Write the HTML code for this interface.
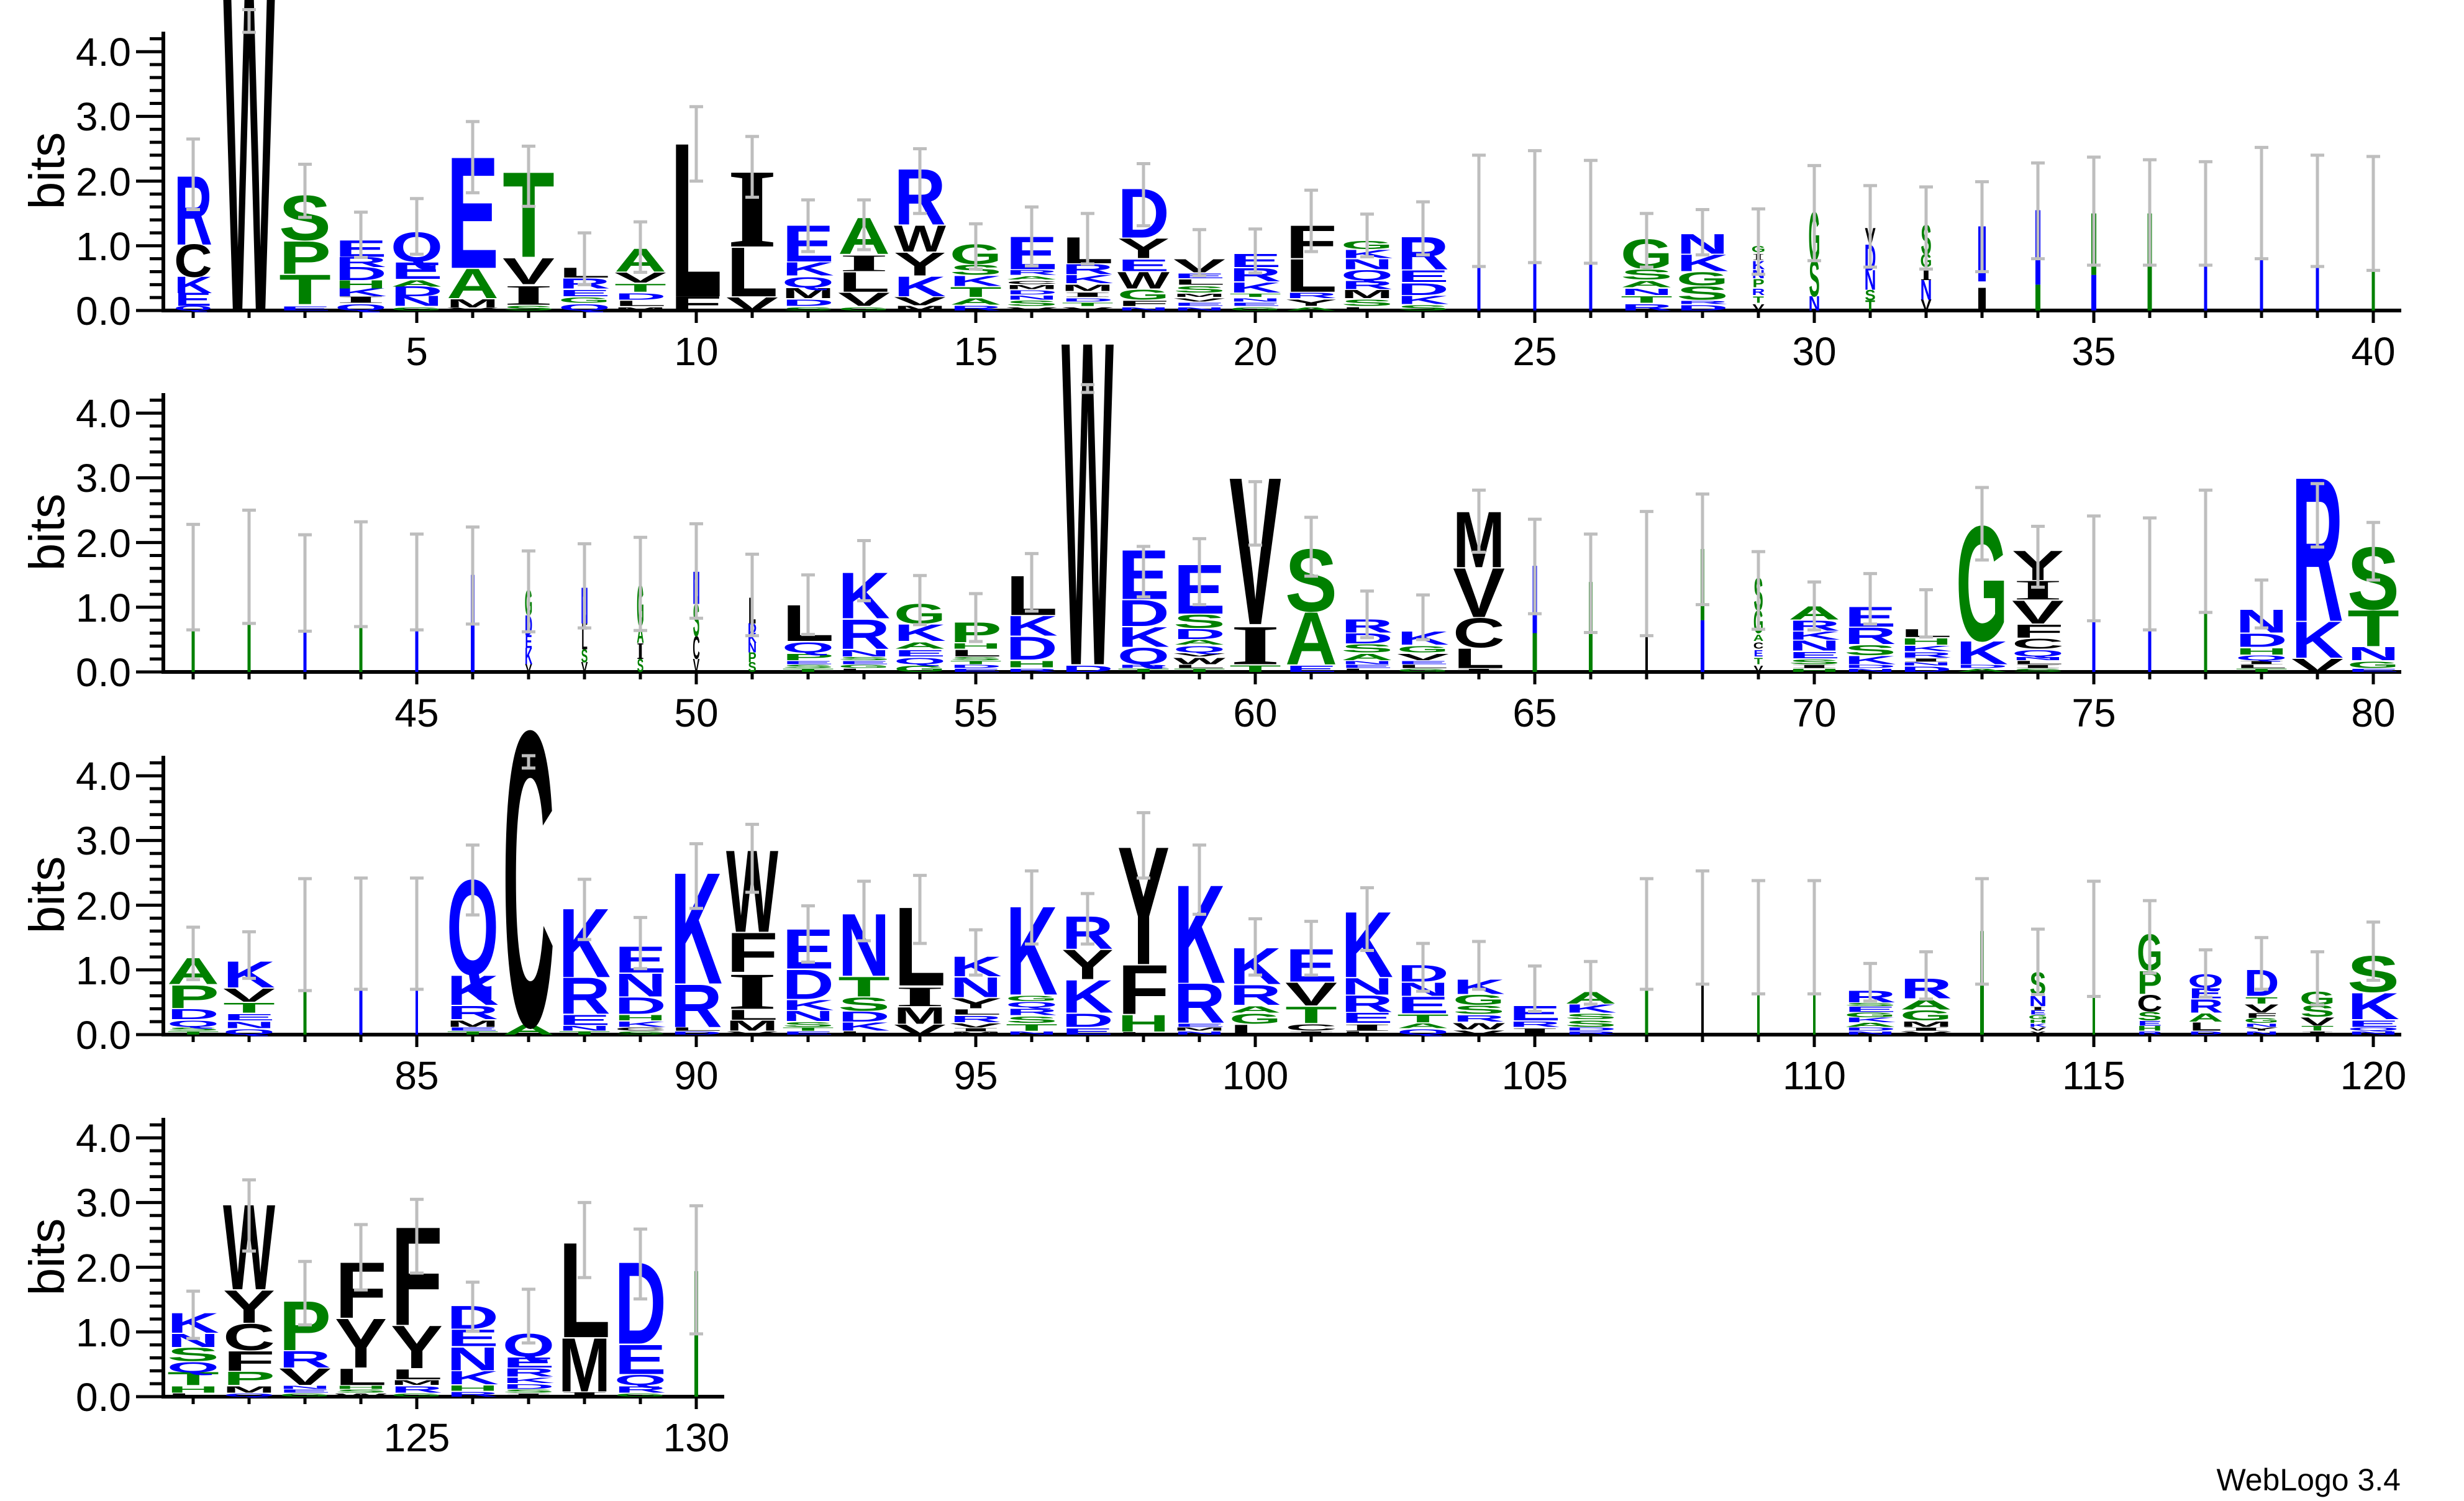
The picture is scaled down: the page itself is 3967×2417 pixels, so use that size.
<!DOCTYPE html>
<html><head><meta charset="utf-8">
<style>
html,body{margin:0;padding:0;background:#fff}
svg{display:block}
.L text{font-family:"Liberation Sans",sans-serif;font-weight:bold;font-size:100px;text-anchor:middle}
.L text.i{font-family:"Liberation Serif",serif}
.b{fill:#0000ff}.g{fill:#008000}.k{fill:#000}
.e{stroke:#bebebe;stroke-width:5;fill:none;vector-effect:non-scaling-stroke}
.ax{stroke:#000;fill:none}
.tl{font-family:"Liberation Sans",sans-serif;font-size:64px;fill:#000}
.bl{font-family:"Liberation Sans",sans-serif;font-size:80px;fill:#000;text-anchor:middle}
</style></head><body>
<svg width="3967" height="2417" viewBox="0 0 3967 2417" xmlns="http://www.w3.org/2000/svg">
<defs>
<g id="yax">
<path class="ax" stroke-width="6" d="M263,3V-449"/>
<path class="ax" stroke-width="5" d="M219,0H263M219,-104.2H263M219,-208.4H263M219,-312.6H263M219,-416.8H263M241,-20.84H263M241,-41.68H263M241,-62.52H263M241,-83.36H263M241,-125.04H263M241,-145.88H263M241,-166.72H263M241,-187.56H263M241,-229.24H263M241,-250.08H263M241,-270.92H263M241,-291.76H263M241,-333.44H263M241,-354.28H263M241,-375.12H263M241,-395.96H263M241,-437.64H263"/>
</g>
<g id="xax">
<path class="ax" stroke-width="6" d="M263,0H3866"/>
<path class="ax" stroke-width="5" d="M311,0v12M401,0v12M491,0v12M581,0v12M671,0v20M761,0v12M851,0v12M941,0v12M1031,0v12M1121,0v20M1211,0v12M1301,0v12M1391,0v12M1481,0v12M1571,0v20M1661,0v12M1751,0v12M1841,0v12M1931,0v12M2021,0v20M2111,0v12M2201,0v12M2291,0v12M2381,0v12M2471,0v20M2561,0v12M2651,0v12M2741,0v12M2831,0v12M2921,0v20M3011,0v12M3101,0v12M3191,0v12M3281,0v12M3371,0v20M3461,0v12M3551,0v12M3641,0v12M3731,0v12M3821,0v20"/>
</g>
</defs>

<use href="#yax" transform="translate(0,500)"/>
<use href="#xax" transform="translate(0,500)"/>
<text class="bl" transform="translate(103,275) rotate(-90)">bits</text>
<g class="tl" text-anchor="end"><text x="211" y="523">0.0</text><text x="211" y="419">1.0</text><text x="211" y="315">2.0</text><text x="211" y="210">3.0</text><text x="211" y="106">4.0</text></g>
<g class="tl" text-anchor="middle"><text x="671" y="588">5</text><text x="1121" y="588">10</text><text x="1571" y="588">15</text><text x="2021" y="588">20</text><text x="2471" y="588">25</text><text x="2921" y="588">30</text><text x="3371" y="588">35</text><text x="3821" y="588">40</text></g>

<use href="#yax" transform="translate(0,1082)"/>
<use href="#xax" transform="translate(0,1082)"/>
<text class="bl" transform="translate(103,857) rotate(-90)">bits</text>
<g class="tl" text-anchor="end"><text x="211" y="1105">0.0</text><text x="211" y="1001">1.0</text><text x="211" y="897">2.0</text><text x="211" y="792">3.0</text><text x="211" y="688">4.0</text></g>
<g class="tl" text-anchor="middle"><text x="671" y="1170">45</text><text x="1121" y="1170">50</text><text x="1571" y="1170">55</text><text x="2021" y="1170">60</text><text x="2471" y="1170">65</text><text x="2921" y="1170">70</text><text x="3371" y="1170">75</text><text x="3821" y="1170">80</text></g>

<use href="#yax" transform="translate(0,1666)"/>
<use href="#xax" transform="translate(0,1666)"/>
<text class="bl" transform="translate(103,1441) rotate(-90)">bits</text>
<g class="tl" text-anchor="end"><text x="211" y="1689">0.0</text><text x="211" y="1585">1.0</text><text x="211" y="1481">2.0</text><text x="211" y="1376">3.0</text><text x="211" y="1272">4.0</text></g>
<g class="tl" text-anchor="middle"><text x="671" y="1754">85</text><text x="1121" y="1754">90</text><text x="1571" y="1754">95</text><text x="2021" y="1754">100</text><text x="2471" y="1754">105</text><text x="2921" y="1754">110</text><text x="3371" y="1754">115</text><text x="3821" y="1754">120</text></g>

<use href="#yax" transform="translate(0,2249)"/>
<path class="ax" stroke-width="6" d="M263,2249H1166"/>
<path class="ax" stroke-width="5" d="M311,2249v12M401,2249v12M491,2249v12M581,2249v12M671,2249v20M761,2249v12M851,2249v12M941,2249v12M1031,2249v12M1121,2249v20"/>
<text class="bl" transform="translate(103,2024) rotate(-90)">bits</text>
<g class="tl" text-anchor="end"><text x="211" y="2272">0.0</text><text x="211" y="2168">1.0</text><text x="211" y="2064">2.0</text><text x="211" y="1959">3.0</text><text x="211" y="1855">4.0</text></g>
<g class="tl" text-anchor="middle"><text x="671" y="2337">125</text><text x="1121" y="2337">130</text></g>

<text x="3865" y="2400" text-anchor="end" style="font-family:'Liberation Sans',sans-serif;font-size:50px">WebLogo 3.4</text>

<g class="L">
<!-- ROW 1 -->
<g transform="translate(311,500) scale(1,104.2)"><text class=b transform=scale(.8,.00102)>Q</text><g transform=translate(0,-.07)><text class=b transform=scale(.9,.0029)>E</text><g transform=translate(0,-.2)><text class=b transform=scale(.85,.00363)>K</text><g transform=translate(0,-.25)><text class=k transform=scale(.85,.00725)>C</text><g transform=translate(0,-.5)><text class=b transform=scale(.85,.01523)>R</text></g></g></g></g><path class=e d="M0,-1.56V-2.65M-11,-1.56H11M-11,-2.65H11"/></g>

<g transform="translate(401,500) scale(1,104.2)"><text class=k transform=scale(.89,.07178)>W</text><path class=e d="M0,-4.3V-4.65M-11,-4.3H11M-11,-4.65H11"/></g>

<g transform="translate(491,500) scale(1,104.2)"><text class=b transform=scale(1.26,.00087)>E</text><g transform=translate(0,-.1)><text class=g transform=scale(1.37,.00653)>T</text><g transform=translate(0,-.47)><text class=g transform=scale(1.26,.00725)>P</text><g transform=translate(0,-.52)><text class=g transform=scale(1.26,.00986)>S</text></g></g></g><path class=e d="M0,-1.44V-2.26M-11,-1.44H11M-11,-2.26H11"/></g>

<g transform="translate(581,500) scale(1,104.2)"><text class=b transform=scale(1.08,.00145)>Q</text><g transform=translate(0,-.12)><text class="k i" transform=scale(2.1,.00145)>I</text><g transform=translate(0,-.1)><text class=b transform=scale(1.16,.00174)>K</text><g transform=translate(0,-.12)><text class=g transform=scale(1.16,.00174)>H</text><g transform=translate(0,-.13)><text class=b transform=scale(1.16,.0029)>D</text><g transform=translate(0,-.2)><text class=b transform=scale(1.16,.00218)>R</text><g transform=translate(0,-.16)><text class=b transform=scale(1.26,.00363)>E</text></g></g></g></g></g></g><path class=e d="M0,-.82V-1.52M-11,-.82H11M-11,-1.52H11"/></g>

<g transform="translate(671,500) scale(1,104.2)"><text class=g transform=scale(1.08,.00073)>G</text><g transform=translate(0,-.07)><text class=b transform=scale(1.16,.00218)>N</text><g transform=translate(0,-.15)><text class=b transform=scale(1.16,.00218)>D</text><g transform=translate(0,-.15)><text class=g transform=scale(1.16,.00145)>A</text><g transform=translate(0,-.12)><text class=b transform=scale(1.26,.00363)>E</text><g transform=translate(0,-.27)><text class=b transform=scale(1.08,.00653)>Q</text></g></g></g></g></g><path class=e d="M0,-.87V-1.73M-11,-.87H11M-11,-1.73H11"/></g>

<g transform="translate(761,500) scale(1,104.2)"><text class=k transform=scale(1.26,.00058)>V</text><g transform=translate(0,-.05)><text class=k transform=scale(1.01,.00174)>M</text><g transform=translate(0,-.14)><text class=g transform=scale(1.16,.00653)>A</text><g transform=translate(0,-.47)><text class=b transform=scale(1.26,.02465)>E</text></g></g></g><path class=e d="M0,-1.82V-2.92M-11,-1.82H11M-11,-2.92H11"/></g>

<g transform="translate(851,500) scale(1,104.2)"><text class=g transform=scale(1.26,.00102)>S</text><g transform=translate(0,-.09)><text class="k i" transform=scale(2.1,.00435)>I</text><g transform=translate(0,-.32)><text class=k transform=scale(1.26,.0058)>V</text><g transform=translate(0,-.42)><text class=g transform=scale(1.37,.01885)>T</text></g></g></g><path class=e d="M0,-1.61V-2.54M-11,-1.61H11M-11,-2.54H11"/></g>

<g transform="translate(941,500) scale(1,104.2)"><text class=b transform=scale(1.08,.00145)>Q</text><g transform=translate(0,-.12)><text class=g transform=scale(1.08,.00116)>G</text><g transform=translate(0,-.1)><text class=b transform=scale(1.26,.00145)>E</text><g transform=translate(0,-.12)><text class=b transform=scale(1.16,.00218)>R</text><g transform=translate(0,-.17)><text class=k transform=scale(1.37,.00218)>L</text></g></g></g></g><path class=e d="M0,-.4V-1.2M-11,-.4H11M-11,-1.2H11"/></g>

<g transform="translate(1031,500) scale(1,104.2)"><text class=k transform=scale(1.01,.00073)>M</text><g transform=translate(0,-.07)><text class=k transform=scale(1.37,.00116)>L</text><g transform=translate(0,-.1)><text class=b transform=scale(1.16,.00145)>D</text><g transform=translate(0,-.12)><text class=g transform=scale(1.37,.00174)>T</text><g transform=translate(0,-.14)><text class=k transform=scale(1.26,.00218)>V</text><g transform=translate(0,-.17)><text class=g transform=scale(1.16,.00508)>A</text></g></g></g></g></g><path class=e d="M0,-.59V-1.37M-11,-.59H11M-11,-1.37H11"/></g>

<g transform="translate(1121,500) scale(1,104.2)"><text class=k transform=scale(1.37,.00319)>F</text><g transform=translate(0,-.22)><text class=k transform=scale(1.37,.03408)>L</text></g><path class=e d="M0,-2V-3.15M-11,-2H11M-11,-3.15H11"/></g>

<g transform="translate(1211,500) scale(1,104.2)"><text class=k transform=scale(1.26,.0029)>V</text><g transform=translate(0,-.22)><text class=k transform=scale(1.37,.01088)>L</text><g transform=translate(0,-.77)><text class="k i" transform=scale(2.1,.0174)>I</text></g></g><path class=e d="M0,-1.75V-2.69M-11,-1.75H11M-11,-2.69H11"/></g>

<g transform="translate(1301,500) scale(1,104.2)"><text class=g transform=scale(1.26,.00073)>S</text><g transform=translate(0,-.07)><text class=b transform=scale(1.16,.00145)>D</text><g transform=translate(0,-.12)><text class=k transform=scale(1.01,.00218)>M</text><g transform=translate(0,-.17)><text class=b transform=scale(1.08,.00218)>Q</text><g transform=translate(0,-.18)><text class=b transform=scale(1.16,.0029)>K</text><g transform=translate(0,-.22)><text class=b transform=scale(1.26,.00798)>E</text></g></g></g></g></g><path class=e d="M0,-.91V-1.71M-11,-.91H11M-11,-1.71H11"/></g>

<g transform="translate(1391,500) scale(1,104.2)"><text class=g transform=scale(1.08,.00073)>G</text><g transform=translate(0,-.07)><text class=k transform=scale(1.26,.0029)>V</text><g transform=translate(0,-.22)><text class=k transform=scale(1.37,.00435)>L</text><g transform=translate(0,-.32)><text class="k i" transform=scale(2.1,.00363)>I</text><g transform=translate(0,-.27)><text class=g transform=scale(1.16,.00798)>A</text></g></g></g></g><path class=e d="M0,-.94V-1.71M-11,-.94H11M-11,-1.71H11"/></g>

<g transform="translate(1481,500) scale(1,104.2)"><text class=k transform=scale(1.01,.00102)>M</text><g transform=translate(0,-.08)><text class=k transform=scale(1.26,.00174)>V</text><g transform=translate(0,-.14)><text class=b transform=scale(1.16,.00435)>K</text><g transform=translate(0,-.32)><text class=k transform=scale(1.26,.00508)>Y</text><g transform=translate(0,-.37)><text class=k transform=scale(.89,.0058)>W</text><g transform=translate(0,-.42)><text class=b transform=scale(1.16,.01233)>R</text></g></g></g></g></g><path class=e d="M0,-1.5V-2.5M-11,-1.5H11M-11,-2.5H11"/></g>

<g transform="translate(1571,500) scale(1,104.2)"><text class=b transform=scale(1.16,.00102)>R</text><g transform=translate(0,-.09)><text class=g transform=scale(1.16,.00145)>A</text><g transform=translate(0,-.12)><text class=g transform=scale(1.37,.00218)>T</text><g transform=translate(0,-.17)><text class=b transform=scale(1.16,.00218)>K</text><g transform=translate(0,-.17)><text class=g transform=scale(1.26,.00218)>S</text><g transform=translate(0,-.17)><text class=g transform=scale(1.08,.00435)>G</text></g></g></g></g></g><path class=e d="M0,-.64V-1.34M-11,-.64H11M-11,-1.34H11"/></g>

<g transform="translate(1661,500) scale(1,104.2)"><text class=k transform=scale(1.26,.00073)>V</text><g transform=translate(0,-.07)><text class=g transform=scale(1.26,.00116)>S</text><g transform=translate(0,-.1)><text class=b transform=scale(1.16,.00087)>N</text><g transform=translate(0,-.08)><text class=b transform=scale(1.16,.00087)>D</text><g transform=translate(0,-.08)><text class=k transform=scale(1.01,.00087)>M</text><g transform=translate(0,-.08)><text class=k transform=scale(1.16,.00073)>C</text><g transform=translate(0,-.07)><text class=g transform=scale(1.16,.00073)>A</text><g transform=translate(0,-.07)><text class=b transform=scale(1.16,.00102)>R</text><g transform=translate(0,-.09)><text class=b transform=scale(1.26,.00725)>E</text></g></g></g></g></g></g></g></g><path class=e d="M0,-.69V-1.6M-11,-.69H11M-11,-1.6H11"/></g>

<g transform="translate(1751,500) scale(1,104.2)"><text class=k transform=scale(1.26,.00073)>V</text><g transform=translate(0,-.07)><text class=g transform=scale(1.37,.00073)>T</text><g transform=translate(0,-.07)><text class=b transform=scale(1.16,.00073)>D</text><g transform=translate(0,-.07)><text class="k i" transform=scale(2.1,.00102)>I</text><g transform=translate(0,-.09)><text class=k transform=scale(1.01,.00145)>M</text><g transform=translate(0,-.12)><text class=b transform=scale(1.16,.00174)>K</text><g transform=translate(0,-.14)><text class=b transform=scale(1.16,.00218)>R</text><g transform=translate(0,-.17)><text class=k transform=scale(1.37,.0058)>L</text></g></g></g></g></g></g></g><path class=e d="M0,-.72V-1.5M-11,-.72H11M-11,-1.5H11"/></g>

<g transform="translate(1841,500) scale(1,104.2)"><text class=b transform=scale(1.16,.00073)>N</text><g transform=translate(0,-.07)><text class=k transform=scale(1.37,.00116)>F</text><g transform=translate(0,-.1)><text class=g transform=scale(1.08,.00218)>G</text><g transform=translate(0,-.17)><text class=k transform=scale(.89,.00363)>W</text><g transform=translate(0,-.27)><text class=b transform=scale(1.26,.00261)>E</text><g transform=translate(0,-.2)><text class=k transform=scale(1.26,.00435)>Y</text><g transform=translate(0,-.32)><text class=b transform=scale(1.16,.01088)>D</text></g></g></g></g></g></g><path class=e d="M0,-1.31V-2.27M-11,-1.31H11M-11,-2.27H11"/></g>

<g transform="translate(1931,500) scale(1,104.2)"><text class=b transform=scale(1.16,.00073)>N</text><g transform=translate(0,-.07)><text class=b transform=scale(1.26,.00073)>E</text><g transform=translate(0,-.07)><text class=k transform=scale(1.26,.00073)>V</text><g transform=translate(0,-.07)><text class=k transform=scale(1.01,.00073)>M</text><g transform=translate(0,-.07)><text class=g transform=scale(1.26,.00145)>S</text><g transform=translate(0,-.12)><text class=k transform=scale(1.37,.00116)>L</text><g transform=translate(0,-.1)><text class=b transform=scale(1.26,.00102)>E</text><g transform=translate(0,-.09)><text class=k transform=scale(1.26,.0029)>V</text></g></g></g></g></g></g></g><path class=e d="M0,-.54V-1.25M-11,-.54H11M-11,-1.25H11"/></g>

<g transform="translate(2021,500) scale(1,104.2)"><text class=g transform=scale(1.08,.00073)>G</text><g transform=translate(0,-.07)><text class=b transform=scale(1.26,.00073)>E</text><g transform=translate(0,-.07)><text class=b transform=scale(1.16,.00073)>N</text><g transform=translate(0,-.07)><text class=g transform=scale(1.37,.00073)>T</text><g transform=translate(0,-.07)><text class=b transform=scale(1.16,.00218)>K</text><g transform=translate(0,-.17)><text class=b transform=scale(1.16,.0029)>R</text><g transform=translate(0,-.22)><text class=b transform=scale(1.26,.0029)>E</text></g></g></g></g></g></g><path class=e d="M0,-.58V-1.26M-11,-.58H11M-11,-1.26H11"/></g>

<g transform="translate(2111,500) scale(1,104.2)"><text class=g transform=scale(1.16,.00073)>A</text><g transform=translate(0,-.07)><text class=k transform=scale(1.26,.00145)>Y</text><g transform=translate(0,-.12)><text class=b transform=scale(1.16,.00116)>R</text><g transform=translate(0,-.1)><text class=k transform=scale(1.37,.00725)>L</text><g transform=translate(0,-.52)><text class=k transform=scale(1.37,.00725)>F</text></g></g></g></g><path class=e d="M0,-.91V-1.86M-11,-.91H11M-11,-1.86H11"/></g>

<g transform="translate(2201,500) scale(1,104.2)"><text class=k transform=scale(1.37,.00073)>L</text><g transform=translate(0,-.07)><text class=g transform=scale(1.26,.00145)>S</text><g transform=translate(0,-.12)><text class=k transform=scale(1.01,.00174)>M</text><g transform=translate(0,-.14)><text class=b transform=scale(1.16,.00174)>R</text><g transform=translate(0,-.14)><text class=b transform=scale(1.08,.00218)>Q</text><g transform=translate(0,-.17)><text class=b transform=scale(1.16,.00218)>N</text><g transform=translate(0,-.17)><text class=b transform=scale(1.16,.00174)>K</text><g transform=translate(0,-.14)><text class=g transform=scale(1.08,.00174)>G</text></g></g></g></g></g></g></g><path class=e d="M0,-.83V-1.49M-11,-.83H11M-11,-1.49H11"/></g>

<g transform="translate(2291,500) scale(1,104.2)"><text class=g transform=scale(1.26,.00116)>S</text><g transform=translate(0,-.1)><text class=b transform=scale(1.16,.00174)>K</text><g transform=translate(0,-.14)><text class=b transform=scale(1.16,.00261)>D</text><g transform=translate(0,-.2)><text class=b transform=scale(1.26,.00261)>E</text><g transform=translate(0,-.2)><text class=b transform=scale(1.16,.00725)>R</text></g></g></g></g><path class=e d="M0,-.86V-1.68M-11,-.86H11M-11,-1.68H11"/></g>

<g transform="translate(2381,500) scale(1,104.2)"><rect class=b x="-2.5" y="-1.55" width="5" height="1.55"/><path class=e d="M0,-.68V-2.4M-11,-.68H11M-11,-2.4H11"/></g>
<g transform="translate(2471,500) scale(1,104.2)"><rect class=b x="-2.5" y="-1.6" width="5" height="1.6"/><path class=e d="M0,-.74V-2.47M-11,-.74H11M-11,-2.47H11"/></g>
<g transform="translate(2561,500) scale(1,104.2)"><rect class=b x="-2.5" y="-1.5" width="5" height="1.5"/><path class=e d="M0,-.73V-2.32M-11,-.73H11M-11,-2.32H11"/></g>

<g transform="translate(2651,500) scale(1,104.2)"><text class=b transform=scale(1.16,.00145)>R</text><g transform=translate(0,-.12)><text class=g transform=scale(1.37,.00145)>T</text><g transform=translate(0,-.12)><text class=b transform=scale(1.16,.00145)>N</text><g transform=translate(0,-.12)><text class=g transform=scale(1.16,.00145)>A</text><g transform=translate(0,-.12)><text class=g transform=scale(1.26,.00218)>S</text><g transform=translate(0,-.17)><text class=g transform=scale(1.08,.00653)>G</text></g></g></g></g></g><path class=e d="M0,-.67V-1.5M-11,-.67H11M-11,-1.5H11"/></g>

<g transform="translate(2741,500) scale(1,104.2)"><text class=b transform=scale(1.16,.00116)>D</text><g transform=translate(0,-.1)><text class=b transform=scale(1.16,.00073)>R</text><g transform=translate(0,-.07)><text class=g transform=scale(1.26,.0029)>S</text><g transform=translate(0,-.22)><text class=g transform=scale(1.08,.0029)>G</text><g transform=translate(0,-.22)><text class=b transform=scale(1.16,.00363)>K</text><g transform=translate(0,-.27)><text class=b transform=scale(1.16,.00435)>N</text></g></g></g></g></g><path class=e d="M0,-.86V-1.56M-11,-.86H11M-11,-1.56H11"/></g>

<g transform="translate(2831,500) scale(1,104.2)"><text class=k transform=scale(.29,.00145)>V</text><g transform=translate(0,-.12)><text class=g transform=scale(.29,.00145)>T</text><g transform=translate(0,-.12)><text class=b transform=scale(.29,.00145)>R</text><g transform=translate(0,-.12)><text class=g transform=scale(.29,.00174)>P</text><g transform=translate(0,-.14)><text class=b transform=scale(.29,.00174)>N</text><g transform=translate(0,-.14)><text class=b transform=scale(.29,.00174)>K</text><g transform=translate(0,-.14)><text class="k i" transform=scale(.5,.00145)>I</text><g transform=translate(0,-.12)><text class=g transform=scale(.29,.00145)>G</text></g></g></g></g></g></g></g><path class=e d="M0,-.56V-1.57M-11,-.56H11M-11,-1.57H11"/></g>

<g transform="translate(2921,500) scale(1,104.2)"><text class=b transform=scale(.26,.00319)>N</text><g transform=translate(0,-.22)><text class=g transform=scale(.26,.00798)>S</text><g transform=translate(0,-.55)><text class=g transform=scale(.24,.01088)>G</text></g></g><path class=e d="M0,-.77V-2.24M-11,-.77H11M-11,-2.24H11"/></g>

<g transform="translate(3011,500) scale(1,104.2)"><text class=g transform=scale(.26,.00232)>T</text><g transform=translate(0,-.16)><text class=g transform=scale(.26,.00232)>S</text><g transform=translate(0,-.16)><text class=b transform=scale(.26,.00435)>N</text><g transform=translate(0,-.3)><text class=b transform=scale(.26,.0058)>D</text><g transform=translate(0,-.4)><text class=k transform=scale(.26,.00363)>V</text></g></g></g></g><path class=e d="M0,-.67V-1.93M-11,-.67H11M-11,-1.93H11"/></g>

<g transform="translate(3101,500) scale(1,104.2)"><text class=k transform=scale(.26,.00247)>V</text><g transform=translate(0,-.17)><text class=b transform=scale(.26,.00435)>N</text><g transform=translate(0,-.3)><text class="k i" transform=scale(.5,.0029)>I</text><g transform=translate(0,-.2)><text class=g transform=scale(.24,.0029)>G</text><g transform=translate(0,-.2)><text class=g transform=scale(.26,.00653)>S</text></g></g></g></g><path class=e d="M0,-.64V-1.91M-11,-.64H11M-11,-1.91H11"/></g>

<g transform="translate(3191,500) scale(1,104.2)"><rect class=k x="-6" y="-.35" width="12" height=".35"/><rect class=b x="-6" y="-1.3" width="12" height=".85"/><path class=e d="M0,-.6V-1.99M-11,-.6H11M-11,-1.99H11"/></g>

<g transform="translate(3281,500) scale(1,104.2)"><rect class=g x="-4" y="-.4" width="8" height=".4"/><rect class=b x="-4" y="-1.55" width="8" height="1.15"/><path class=e d="M0,-.8V-2.28M-11,-.8H11M-11,-2.28H11"/></g>

<g transform="translate(3371,500) scale(1,104.2)"><rect class=b x="-4" y="-.55" width="8" height=".55"/><rect class=g x="-4" y="-1.5" width="8" height=".95"/><path class=e d="M0,-.7V-2.37M-11,-.7H11M-11,-2.37H11"/></g>

<g transform="translate(3461,500) scale(1,104.2)"><rect class=g x="-3.5" y="-1.5" width="7" height="1.5"/><path class=e d="M0,-.7V-2.33M-11,-.7H11M-11,-2.33H11"/></g>

<g transform="translate(3551,500) scale(1,104.2)"><rect class=b x="-2.5" y="-1.5" width="5" height="1.5"/><path class=e d="M0,-.7V-2.3M-11,-.7H11M-11,-2.3H11"/></g>
<g transform="translate(3641,500) scale(1,104.2)"><rect class=b x="-2.5" y="-1.65" width="5" height="1.65"/><path class=e d="M0,-.8V-2.52M-11,-.8H11M-11,-2.52H11"/></g>
<g transform="translate(3731,500) scale(1,104.2)"><rect class=b x="-2.5" y="-1.5" width="5" height="1.5"/><path class=e d="M0,-.68V-2.4M-11,-.68H11M-11,-2.4H11"/></g>
<g transform="translate(3821,500) scale(1,104.2)"><rect class=g x="-2.5" y="-1.45" width="5" height="1.45"/><path class=e d="M0,-.62V-2.38M-11,-.62H11M-11,-2.38H11"/></g>

<!-- ROW 2 -->
<g transform="translate(311,1082) scale(1,104.2)"><rect class=g x="-2.5" y="-1.46" width="5" height="1.46"/><path class=e d="M0,-.65V-2.28M-11,-.65H11M-11,-2.28H11"/></g>
<g transform="translate(401,1082) scale(1,104.2)"><rect class=g x="-2.5" y="-1.63" width="5" height="1.63"/><path class=e d="M0,-.75V-2.5M-11,-.75H11M-11,-2.5H11"/></g>
<g transform="translate(491,1082) scale(1,104.2)"><rect class=b x="-2.5" y="-1.39" width="5" height="1.39"/><path class=e d="M0,-.63V-2.12M-11,-.63H11M-11,-2.12H11"/></g>
<g transform="translate(581,1082) scale(1,104.2)"><rect class=g x="-2.5" y="-1.52" width="5" height="1.52"/><path class=e d="M0,-.7V-2.32M-11,-.7H11M-11,-2.32H11"/></g>
<g transform="translate(671,1082) scale(1,104.2)"><rect class=b x="-2.5" y="-1.39" width="5" height="1.39"/><path class=e d="M0,-.65V-2.13M-11,-.65H11M-11,-2.13H11"/></g>
<g transform="translate(761,1082) scale(1,104.2)"><rect class=b x="-3" y="-1.5" width="6" height="1.5"/><path class=e d="M0,-.74V-2.24M-11,-.74H11M-11,-2.24H11"/></g>

<g transform="translate(851,1082) scale(1,104.2)"><text class=k transform=scale(.17,.00174)>V</text><g transform=translate(0,-.12)><text class=b transform=scale(.17,.00363)>K</text><g transform=translate(0,-.25)><text class=b transform=scale(.17,.0029)>E</text><g transform=translate(0,-.2)><text class=b transform=scale(.17,.00435)>D</text><g transform=translate(0,-.3)><text class=g transform=scale(.16,.0058)>G</text></g></g></g></g><path class=e d="M0,-.62V-1.87M-11,-.62H11M-11,-1.87H11"/></g>

<g transform="translate(941,1082) scale(1,104.2)"><text class=k transform=scale(.16,.00218)>V</text><g transform=translate(0,-.15)><text class=g transform=scale(.16,.0029)>S</text><g transform=translate(0,-.2)><text class=k transform=scale(.16,.00363)>L</text><g transform=translate(0,-.25)><text class=k transform=scale(.16,.00218)>F</text><g transform=translate(0,-.15)><text class=b transform=scale(.16,.00798)>N</text></g></g></g></g><path class=e d="M0,-.68V-1.98M-11,-.68H11M-11,-1.98H11"/></g>

<g transform="translate(1031,1082) scale(1,104.2)"><text class=g transform=scale(.16,.0029)>S</text><g transform=translate(0,-.2)><text class="k i" transform=scale(.3,.00363)>I</text><g transform=translate(0,-.25)><text class=g transform=scale(.16,.00363)>A</text><g transform=translate(0,-.25)><text class=g transform=scale(.15,.00943)>G</text></g></g></g><path class=e d="M0,-.64V-2.08M-11,-.64H11M-11,-2.08H11"/></g>

<g transform="translate(1121,1082) scale(1,104.2)"><text class=k transform=scale(.16,.0029)>V</text><g transform=translate(0,-.2)><text class=k transform=scale(.16,.00508)>C</text><g transform=translate(0,-.35)><text class=g transform=scale(.16,.00725)>S</text><g transform=translate(0,-.5)><text class=b transform=scale(.16,.00725)>N</text></g></g></g><path class=e d="M0,-.83V-2.29M-11,-.83H11M-11,-2.29H11"/></g>

<g transform="translate(1211,1082) scale(1,104.2)"><text class=g transform=scale(.2,.00218)>S</text><g transform=translate(0,-.15)><text class=g transform=scale(.2,.00218)>P</text><g transform=translate(0,-.15)><text class=b transform=scale(.2,.00218)>N</text><g transform=translate(0,-.15)><text class=b transform=scale(.2,.00218)>K</text><g transform=translate(0,-.15)><text class=b transform=scale(.2,.00218)>D</text><g transform=translate(0,-.15)><text class=k transform=scale(.2,.0058)>L</text></g></g></g></g></g><path class=e d="M0,-.56V-1.82M-11,-.56H11M-11,-1.82H11"/></g>

<g transform="translate(1301,1082) scale(1,104.2)"><text class=g transform=scale(1.37,.00073)>T</text><g transform=translate(0,-.06)><text class=g transform=scale(1.26,.00073)>S</text><g transform=translate(0,-.06)><text class=b transform=scale(1.26,.00073)>E</text><g transform=translate(0,-.06)><text class=g transform=scale(1.26,.00145)>P</text><g transform=translate(0,-.12)><text class=b transform=scale(1.08,.00218)>Q</text><g transform=translate(0,-.18)><text class=k transform=scale(1.37,.00798)>L</text></g></g></g></g></g><path class=e d="M0,-.58V-1.5M-11,-.58H11M-11,-1.5H11"/></g>

<g transform="translate(1391,1082) scale(1,104.2)"><text class=k transform=scale(1.37,.00073)>L</text><g transform=translate(0,-.06)><text class=g transform=scale(1.08,.00073)>G</text><g transform=translate(0,-.06)><text class=b transform=scale(1.26,.00073)>E</text><g transform=translate(0,-.06)><text class=g transform=scale(1.26,.00073)>S</text><g transform=translate(0,-.06)><text class=b transform=scale(1.16,.00145)>N</text><g transform=translate(0,-.12)><text class=b transform=scale(1.16,.00653)>R</text><g transform=translate(0,-.47)><text class=b transform=scale(1.16,.01015)>K</text></g></g></g></g></g></g><path class=e d="M0,-1.1V-2.03M-11,-1.1H11M-11,-2.03H11"/></g>

<g transform="translate(1481,1082) scale(1,104.2)"><text class=g transform=scale(1.08,.00145)>G</text><g transform=translate(0,-.12)><text class=b transform=scale(1.08,.00145)>Q</text><g transform=translate(0,-.12)><text class=b transform=scale(1.26,.00145)>E</text><g transform=translate(0,-.12)><text class=g transform=scale(1.16,.00145)>A</text><g transform=translate(0,-.12)><text class=b transform=scale(1.16,.00363)>K</text><g transform=translate(0,-.27)><text class=g transform=scale(1.08,.00435)>G</text></g></g></g></g></g><path class=e d="M0,-.73V-1.49M-11,-.73H11M-11,-1.49H11"/></g>

<g transform="translate(1571,1082) scale(1,104.2)"><text class=b transform=scale(1.26,.00073)>E</text><g transform=translate(0,-.06)><text class=b transform=scale(1.16,.00073)>D</text><g transform=translate(0,-.06)><text class=g transform=scale(1.37,.00073)>T</text><g transform=translate(0,-.06)><text class=g transform=scale(1.26,.00073)>S</text><g transform=translate(0,-.06)><text class=k transform=scale(1.37,.00145)>L</text><g transform=translate(0,-.12)><text class=g transform=scale(1.16,.00116)>H</text><g transform=translate(0,-.1)><text class=g transform=scale(1.26,.00435)>P</text></g></g></g></g></g></g><path class=e d="M0,-.47V-1.21M-11,-.47H11M-11,-1.21H11"/></g>

<g transform="translate(1661,1082) scale(1,104.2)"><text class=b transform=scale(1.16,.00073)>R</text><g transform=translate(0,-.07)><text class=g transform=scale(1.16,.00145)>H</text><g transform=translate(0,-.12)><text class=b transform=scale(1.16,.00508)>D</text><g transform=translate(0,-.37)><text class=b transform=scale(1.16,.00435)>K</text><g transform=translate(0,-.32)><text class=k transform=scale(1.37,.0087)>L</text></g></g></g></g><path class=e d="M0,-.94V-1.83M-11,-.94H11M-11,-1.83H11"/></g>

<g transform="translate(1751,1082) scale(1,104.2)"><text class=b transform=scale(1.16,.00145)>D</text><g transform=translate(0,-.12)><text class=k transform=scale(.89,.07178)>W</text></g><path class=e d="M0,-4.32V-4.44M-11,-4.32H11M-11,-4.44H11"/></g>

<g transform="translate(1841,1082) scale(1,104.2)"><text class=g transform=scale(1.37,.00073)>T</text><g transform=translate(0,-.06)><text class=b transform=scale(1.16,.00073)>R</text><g transform=translate(0,-.06)><text class=b transform=scale(1.08,.00363)>Q</text><g transform=translate(0,-.27)><text class=b transform=scale(1.16,.00435)>K</text><g transform=translate(0,-.32)><text class=b transform=scale(1.16,.0058)>D</text><g transform=translate(0,-.42)><text class=b transform=scale(1.26,.01088)>E</text></g></g></g></g></g><path class=e d="M0,-1.16V-1.94M-11,-1.16H11M-11,-1.94H11"/></g>

<g transform="translate(1931,1082) scale(1,104.2)"><text class=g transform=scale(1.37,.00073)>T</text><g transform=translate(0,-.06)><text class=k transform=scale(1.37,.00073)>L</text><g transform=translate(0,-.06)><text class=k transform=scale(.89,.00145)>W</text><g transform=translate(0,-.12)><text class=k transform=scale(1.26,.00073)>V</text><g transform=translate(0,-.06)><text class=b transform=scale(1.08,.00145)>Q</text><g transform=translate(0,-.12)><text class=g transform=scale(1.16,.00102)>A</text><g transform=translate(0,-.09)><text class=b transform=scale(1.16,.00218)>D</text><g transform=translate(0,-.17)><text class=g transform=scale(1.26,.0029)>S</text><g transform=translate(0,-.22)><text class=b transform=scale(1.26,.01088)>E</text></g></g></g></g></g></g></g></g><path class=e d="M0,-1.04V-2.06M-11,-1.04H11M-11,-2.06H11"/></g>

<g transform="translate(2021,1082) scale(1,104.2)"><text class=g transform=scale(1.37,.00145)>T</text><g transform=translate(0,-.12)><text class="k i" transform=scale(2.1,.0087)>I</text><g transform=translate(0,-.62)><text class=k transform=scale(1.26,.03263)>V</text></g></g><path class=e d="M0,-1.96V-2.94M-11,-1.96H11M-11,-2.94H11"/></g>

<g transform="translate(2111,1082) scale(1,104.2)"><text class=b transform=scale(1.26,.00145)>E</text><g transform=translate(0,-.12)><text class=g transform=scale(1.16,.0116)>A</text><g transform=translate(0,-.82)><text class=g transform=scale(1.26,.01378)>S</text></g></g><path class=e d="M0,-1.48V-2.39M-11,-1.48H11M-11,-2.39H11"/></g>

<g transform="translate(2201,1082) scale(1,104.2)"><text class=k transform=scale(1.37,.00073)>L</text><g transform=translate(0,-.06)><text class=b transform=scale(1.26,.00073)>E</text><g transform=translate(0,-.06)><text class=b transform=scale(1.16,.00073)>N</text><g transform=translate(0,-.06)><text class=g transform=scale(1.16,.00145)>A</text><g transform=translate(0,-.12)><text class=g transform=scale(1.26,.00174)>S</text><g transform=translate(0,-.14)><text class=b transform=scale(1.16,.00218)>D</text><g transform=translate(0,-.17)><text class=b transform=scale(1.16,.0029)>R</text></g></g></g></g></g></g><path class=e d="M0,-.53V-1.25M-11,-.53H11M-11,-1.25H11"/></g>

<g transform="translate(2291,1082) scale(1,104.2)"><text class=g transform=scale(1.08,.00073)>G</text><g transform=translate(0,-.06)><text class=k transform=scale(1.37,.00073)>L</text><g transform=translate(0,-.06)><text class=b transform=scale(1.26,.00073)>E</text><g transform=translate(0,-.06)><text class=k transform=scale(1.26,.00145)>V</text><g transform=translate(0,-.12)><text class=g transform=scale(1.08,.00145)>G</text><g transform=translate(0,-.12)><text class=b transform=scale(1.16,.0029)>K</text></g></g></g></g></g><path class=e d="M0,-.5V-1.19M-11,-.5H11M-11,-1.19H11"/></g>

<g transform="translate(2381,1082) scale(1,104.2)"><text class="k i" transform=scale(2.1,.00073)>I</text><g transform=translate(0,-.06)><text class=k transform=scale(1.37,.00435)>L</text><g transform=translate(0,-.32)><text class=k transform=scale(1.16,.00653)>C</text><g transform=translate(0,-.47)><text class=k transform=scale(1.26,.01088)>V</text><g transform=translate(0,-.77)><text class=k transform=scale(1.01,.01233)>M</text></g></g></g></g><path class=e d="M0,-1.85V-2.81M-11,-1.85H11M-11,-2.81H11"/></g>

<g transform="translate(2471,1082) scale(1,104.2)"><rect class=g x="-3.5" y="-.6" width="7" height=".6"/><rect class=b x="-3.5" y="-1.64" width="7" height="1.04"/><path class=e d="M0,-.9V-2.36M-11,-.9H11M-11,-2.36H11"/></g>
<g transform="translate(2561,1082) scale(1,104.2)"><rect class=g x="-3" y="-1.39" width="6" height="1.39"/><path class=e d="M0,-.61V-2.13M-11,-.61H11M-11,-2.13H11"/></g>
<g transform="translate(2651,1082) scale(1,104.2)"><rect class=k x="-2" y="-1.52" width="4" height="1.52"/><path class=e d="M0,-.56V-2.48M-11,-.56H11M-11,-2.48H11"/></g>
<g transform="translate(2741,1082) scale(1,104.2)"><rect class=b x="-3" y="-.8" width="6" height=".8"/><rect class=g x="-3" y="-1.9" width="6" height="1.1"/><path class=e d="M0,-1.04V-2.75M-11,-1.04H11M-11,-2.75H11"/></g>

<g transform="translate(2831,1082) scale(1,104.2)"><text class=k transform=scale(.23,.00145)>V</text><g transform=translate(0,-.12)><text class=g transform=scale(.23,.00145)>T</text><g transform=translate(0,-.12)><text class=b transform=scale(.23,.00145)>E</text><g transform=translate(0,-.12)><text class=k transform=scale(.23,.00145)>C</text><g transform=translate(0,-.12)><text class=g transform=scale(.23,.00145)>A</text><g transform=translate(0,-.12)><text class=g transform=scale(.21,.00508)>G</text><g transform=translate(0,-.35)><text class=g transform=scale(.23,.00725)>S</text></g></g></g></g></g></g><path class=e d="M0,-.66V-1.86M-11,-.66H11M-11,-1.86H11"/></g>

<g transform="translate(2921,1082) scale(1,104.2)"><text class=g transform=scale(1.16,.00073)>H</text><g transform=translate(0,-.06)><text class="k i" transform=scale(2.1,.00073)>I</text><g transform=translate(0,-.06)><text class=g transform=scale(1.26,.00102)>S</text><g transform=translate(0,-.09)><text class=b transform=scale(1.26,.00145)>E</text><g transform=translate(0,-.12)><text class=b transform=scale(1.16,.00218)>N</text><g transform=translate(0,-.17)><text class=b transform=scale(1.16,.00174)>K</text><g transform=translate(0,-.14)><text class=b transform=scale(1.16,.00218)>R</text><g transform=translate(0,-.17)><text class=g transform=scale(1.16,.0029)>A</text></g></g></g></g></g></g></g><path class=e d="M0,-.65V-1.39M-11,-.65H11M-11,-1.39H11"/></g>

<g transform="translate(3011,1082) scale(1,104.2)"><text class=b transform=scale(1.16,.00073)>N</text><g transform=translate(0,-.06)><text class=b transform=scale(1.16,.00073)>D</text><g transform=translate(0,-.06)><text class=b transform=scale(1.16,.00174)>K</text><g transform=translate(0,-.14)><text class=g transform=scale(1.26,.00218)>S</text><g transform=translate(0,-.17)><text class=b transform=scale(1.16,.00363)>R</text><g transform=translate(0,-.27)><text class=b transform=scale(1.26,.00435)>E</text></g></g></g></g></g><path class=e d="M0,-.74V-1.52M-11,-.74H11M-11,-1.52H11"/></g>

<g transform="translate(3101,1082) scale(1,104.2)"><text class=b transform=scale(1.16,.00116)>D</text><g transform=translate(0,-.1)><text class=b transform=scale(1.16,.00073)>N</text><g transform=translate(0,-.06)><text class="k i" transform=scale(2.1,.00073)>I</text><g transform=translate(0,-.06)><text class=b transform=scale(1.16,.00116)>R</text><g transform=translate(0,-.1)><text class=b transform=scale(1.16,.00116)>K</text><g transform=translate(0,-.1)><text class=g transform=scale(1.16,.00145)>H</text><g transform=translate(0,-.12)><text class=k transform=scale(1.37,.00174)>L</text></g></g></g></g></g></g><path class=e d="M0,-.54V-1.27M-11,-.54H11M-11,-1.27H11"/></g>

<g transform="translate(3191,1082) scale(1,104.2)"><text class=g transform=scale(1.16,.00073)>A</text><g transform=translate(0,-.06)><text class=b transform=scale(1.16,.00073)>D</text><g transform=translate(0,-.06)><text class=b transform=scale(1.16,.00508)>K</text><g transform=translate(0,-.37)><text class=g transform=scale(1.08,.02538)>G</text></g></g></g><path class=e d="M0,-1.73V-2.85M-11,-1.73H11M-11,-2.85H11"/></g>

<g transform="translate(3281,1082) scale(1,104.2)"><text class=g transform=scale(1.26,.00073)>S</text><g transform=translate(0,-.06)><text class="k i" transform=scale(2.1,.00073)>I</text><g transform=translate(0,-.06)><text class=k transform=scale(1.37,.00073)>L</text><g transform=translate(0,-.06)><text class=b transform=scale(1.16,.00073)>N</text><g transform=translate(0,-.06)><text class=b transform=scale(1.08,.00145)>Q</text><g transform=translate(0,-.12)><text class=k transform=scale(1.16,.00218)>C</text><g transform=translate(0,-.17)><text class=k transform=scale(1.37,.0029)>F</text><g transform=translate(0,-.22)><text class=k transform=scale(1.26,.00508)>V</text><g transform=translate(0,-.37)><text class="k i" transform=scale(2.1,.00435)>I</text><g transform=translate(0,-.3)><text class=k transform=scale(1.26,.00653)>Y</text></g></g></g></g></g></g></g></g></g><path class=e d="M0,-1.31V-2.25M-11,-1.31H11M-11,-2.25H11"/></g>

<g transform="translate(3371,1082) scale(1,104.2)"><rect class=b x="-2.5" y="-1.59" width="5" height="1.59"/><path class=e d="M0,-.79V-2.41M-11,-.79H11M-11,-2.41H11"/></g>
<g transform="translate(3461,1082) scale(1,104.2)"><rect class=b x="-2.5" y="-1.52" width="5" height="1.52"/><path class=e d="M0,-.65V-2.38M-11,-.65H11M-11,-2.38H11"/></g>
<g transform="translate(3551,1082) scale(1,104.2)"><rect class=g x="-2.5" y="-1.86" width="5" height="1.86"/><path class=e d="M0,-.92V-2.81M-11,-.92H11M-11,-2.81H11"/></g>

<g transform="translate(3641,1082) scale(1,104.2)"><text class=g transform=scale(1.37,.00073)>T</text><g transform=translate(0,-.06)><text class=k transform=scale(1.37,.00073)>L</text><g transform=translate(0,-.06)><text class="k i" transform=scale(2.1,.00073)>I</text><g transform=translate(0,-.06)><text class=b transform=scale(1.08,.00102)>Q</text><g transform=translate(0,-.09)><text class=g transform=scale(1.16,.00145)>H</text><g transform=translate(0,-.12)><text class=b transform=scale(1.16,.0029)>D</text><g transform=translate(0,-.22)><text class=b transform=scale(1.16,.00508)>N</text></g></g></g></g></g></g><path class=e d="M0,-.68V-1.42M-11,-.68H11M-11,-1.42H11"/></g>

<g transform="translate(3731,1082) scale(1,104.2)"><text class=k transform=scale(1.26,.0029)>V</text><g transform=translate(0,-.22)><text class=b transform=scale(1.16,.00798)>K</text><g transform=translate(0,-.57)><text class=b transform=scale(1.16,.0319)>R</text></g></g><path class=e d="M0,-1.93V-2.91M-11,-1.93H11M-11,-2.91H11"/></g>

<g transform="translate(3821,1082) scale(1,104.2)"><text class=b transform=scale(1.26,.00073)>E</text><g transform=translate(0,-.06)><text class=g transform=scale(1.08,.00145)>G</text><g transform=translate(0,-.12)><text class=b transform=scale(1.16,.0029)>N</text><g transform=translate(0,-.22)><text class=g transform=scale(1.37,.00798)>T</text><g transform=translate(0,-.57)><text class=g transform=scale(1.26,.01378)>S</text></g></g></g></g><path class=e d="M0,-1.42V-2.31M-11,-1.42H11M-11,-2.31H11"/></g>

<!-- ROW 3 -->
<g transform="translate(311,1666) scale(1,104.2)"><text class=g transform=scale(1.37,.00073)>T</text><g transform=translate(0,-.06)><text class=g transform=scale(1.26,.00073)>S</text><g transform=translate(0,-.06)><text class=b transform=scale(1.08,.00145)>Q</text><g transform=translate(0,-.12)><text class=b transform=scale(1.16,.00218)>D</text><g transform=translate(0,-.17)><text class=g transform=scale(1.26,.00508)>P</text><g transform=translate(0,-.37)><text class=g transform=scale(1.16,.0058)>A</text></g></g></g></g></g><path class=e d="M0,-.85V-1.66M-11,-.85H11M-11,-1.66H11"/></g>

<g transform="translate(401,1666) scale(1,104.2)"><text class=b transform=scale(1.08,.00116)>Q</text><g transform=translate(0,-.1)><text class=b transform=scale(1.16,.00145)>N</text><g transform=translate(0,-.12)><text class=b transform=scale(1.26,.00145)>E</text><g transform=translate(0,-.12)><text class=g transform=scale(1.37,.00218)>T</text><g transform=translate(0,-.17)><text class=k transform=scale(1.26,.0029)>V</text><g transform=translate(0,-.22)><text class=b transform=scale(1.16,.0058)>K</text></g></g></g></g></g><path class=e d="M0,-.87V-1.59M-11,-.87H11M-11,-1.59H11"/></g>

<g transform="translate(491,1666) scale(1,104.2)"><rect class=g x="-2.5" y="-1.54" width="5" height="1.54"/><path class=e d="M0,-.68V-2.41M-11,-.68H11M-11,-2.41H11"/></g>
<g transform="translate(581,1666) scale(1,104.2)"><rect class=b x="-2.5" y="-1.54" width="5" height="1.54"/><path class=e d="M0,-.7V-2.42M-11,-.7H11M-11,-2.42H11"/></g>
<g transform="translate(671,1666) scale(1,104.2)"><rect class=b x="-2" y="-1.56" width="4" height="1.56"/><path class=e d="M0,-.7V-2.42M-11,-.7H11M-11,-2.42H11"/></g>

<g transform="translate(761,1666) scale(1,104.2)"><text class=g transform=scale(1.37,.00073)>T</text><g transform=translate(0,-.06)><text class=b transform=scale(1.26,.00073)>E</text><g transform=translate(0,-.06)><text class=k transform=scale(1.01,.00145)>M</text><g transform=translate(0,-.12)><text class=b transform=scale(1.16,.0029)>R</text><g transform=translate(0,-.22)><text class=b transform=scale(1.16,.00653)>K</text><g transform=translate(0,-.47)><text class=b transform=scale(1.08,.02103)>Q</text></g></g></g></g></g><path class=e d="M0,-1.85V-2.93M-11,-1.85H11M-11,-2.93H11"/></g>

<g transform="translate(851,1666) scale(1,104.2)"><text class=g transform=scale(1.16,.00218)>A</text><g transform=translate(0,-.15)><text class=k transform=scale(1.16,.06525)>C</text></g><path class=e d="M0,-4.12V-4.31M-11,-4.12H11M-11,-4.31H11"/></g>

<g transform="translate(941,1666) scale(1,104.2)"><text class=g transform=scale(1.37,.00073)>T</text><g transform=translate(0,-.06)><text class=b transform=scale(1.16,.00102)>N</text><g transform=translate(0,-.09)><text class=b transform=scale(1.26,.00218)>E</text><g transform=translate(0,-.17)><text class=b transform=scale(1.16,.00798)>R</text><g transform=translate(0,-.57)><text class=b transform=scale(1.16,.01523)>K</text></g></g></g></g><path class=e d="M0,-1.47V-2.4M-11,-1.47H11M-11,-2.4H11"/></g>

<g transform="translate(1031,1666) scale(1,104.2)"><text class=g transform=scale(1.26,.00073)>S</text><g transform=translate(0,-.06)><text class=k transform=scale(1.16,.00073)>C</text><g transform=translate(0,-.06)><text class=b transform=scale(1.16,.00116)>K</text><g transform=translate(0,-.1)><text class=g transform=scale(1.16,.00116)>H</text><g transform=translate(0,-.1)><text class=b transform=scale(1.16,.00363)>D</text><g transform=translate(0,-.27)><text class=b transform=scale(1.16,.00508)>N</text><g transform=translate(0,-.37)><text class=b transform=scale(1.26,.0058)>E</text></g></g></g></g></g></g><path class=e d="M0,-1.02V-1.81M-11,-1.02H11M-11,-1.81H11"/></g>

<g transform="translate(1121,1666) scale(1,104.2)"><text class=b transform=scale(1.16,.00073)>D</text><g transform=translate(0,-.06)><text class=k transform=scale(1.37,.00073)>L</text><g transform=translate(0,-.06)><text class=b transform=scale(1.16,.00943)>R</text><g transform=translate(0,-.67)><text class=b transform=scale(1.16,.02465)>K</text></g></g></g><path class=e d="M0,-1.95V-2.95M-11,-1.95H11M-11,-2.95H11"/></g>

<g transform="translate(1211,1666) scale(1,104.2)"><text class=k transform=scale(1.26,.00073)>V</text><g transform=translate(0,-.06)><text class=k transform=scale(1.01,.00218)>M</text><g transform=translate(0,-.17)><text class=k transform=scale(1.37,.00218)>L</text><g transform=translate(0,-.17)><text class="k i" transform=scale(2.1,.00798)>I</text><g transform=translate(0,-.57)><text class=k transform=scale(1.37,.0087)>F</text><g transform=translate(0,-.62)><text class=k transform=scale(.89,.01813)>W</text></g></g></g></g></g><path class=e d="M0,-2.2V-3.25M-11,-2.2H11M-11,-3.25H11"/></g>

<g transform="translate(1301,1666) scale(1,104.2)"><text class=b transform=scale(1.26,.00073)>E</text><g transform=translate(0,-.06)><text class=g transform=scale(1.37,.00073)>T</text><g transform=translate(0,-.06)><text class=g transform=scale(1.26,.00102)>S</text><g transform=translate(0,-.09)><text class=b transform=scale(1.16,.00218)>N</text><g transform=translate(0,-.17)><text class=b transform=scale(1.16,.00218)>K</text><g transform=translate(0,-.17)><text class=b transform=scale(1.16,.00653)>D</text><g transform=translate(0,-.47)><text class=b transform=scale(1.26,.0087)>E</text></g></g></g></g></g></g><path class=e d="M0,-1.12V-1.99M-11,-1.12H11M-11,-1.99H11"/></g>

<g transform="translate(1391,1666) scale(1,104.2)"><text class=k transform=scale(1.37,.00073)>L</text><g transform=translate(0,-.06)><text class=b transform=scale(1.16,.00174)>K</text><g transform=translate(0,-.14)><text class=b transform=scale(1.16,.00218)>D</text><g transform=translate(0,-.17)><text class=g transform=scale(1.26,.0029)>S</text><g transform=translate(0,-.22)><text class=g transform=scale(1.37,.00435)>T</text><g transform=translate(0,-.32)><text class=b transform=scale(1.16,.01378)>N</text></g></g></g></g></g><path class=e d="M0,-1.45V-2.37M-11,-1.45H11M-11,-2.37H11"/></g>

<g transform="translate(1481,1666) scale(1,104.2)"><text class=k transform=scale(1.26,.00218)>V</text><g transform=translate(0,-.17)><text class=k transform=scale(1.01,.00363)>M</text><g transform=translate(0,-.27)><text class="k i" transform=scale(2.1,.00435)>I</text><g transform=translate(0,-.32)><text class=k transform=scale(1.37,.0174)>L</text></g></g></g><path class=e d="M0,-1.41V-2.46M-11,-1.41H11M-11,-2.46H11"/></g>

<g transform="translate(1571,1666) scale(1,104.2)"><text class=k transform=scale(1.01,.00058)>M</text><g transform=translate(0,-.05)><text class="k i" transform=scale(2.1,.00073)>I</text><g transform=translate(0,-.06)><text class=k transform=scale(1.26,.00087)>V</text><g transform=translate(0,-.08)><text class=b transform=scale(1.16,.00145)>R</text><g transform=translate(0,-.12)><text class=k transform=scale(1.37,.00116)>L</text><g transform=translate(0,-.1)><text class=k transform=scale(1.26,.00218)>Y</text><g transform=translate(0,-.17)><text class=b transform=scale(1.16,.00435)>N</text><g transform=translate(0,-.32)><text class=b transform=scale(1.16,.00435)>K</text></g></g></g></g></g></g></g><path class=e d="M0,-.92V-1.62M-11,-.92H11M-11,-1.62H11"/></g>

<g transform="translate(1661,1666) scale(1,104.2)"><text class=b transform=scale(1.16,.00073)>N</text><g transform=translate(0,-.06)><text class=g transform=scale(1.37,.00145)>T</text><g transform=translate(0,-.12)><text class=g transform=scale(1.26,.00145)>S</text><g transform=translate(0,-.12)><text class=b transform=scale(1.16,.00145)>R</text><g transform=translate(0,-.12)><text class=b transform=scale(1.08,.00116)>Q</text><g transform=translate(0,-.1)><text class=g transform=scale(1.08,.00116)>G</text><g transform=translate(0,-.1)><text class=b transform=scale(1.16,.01958)>K</text></g></g></g></g></g></g><path class=e d="M0,-1.4V-2.53M-11,-1.4H11M-11,-2.53H11"/></g>

<g transform="translate(1751,1666) scale(1,104.2)"><text class=b transform=scale(1.26,.00145)>E</text><g transform=translate(0,-.12)><text class=b transform=scale(1.16,.0029)>D</text><g transform=translate(0,-.22)><text class=b transform=scale(1.16,.00725)>K</text><g transform=translate(0,-.52)><text class=k transform=scale(1.26,.00653)>Y</text><g transform=translate(0,-.47)><text class=b transform=scale(1.16,.00725)>R</text></g></g></g></g><path class=e d="M0,-1.4V-2.18M-11,-1.4H11M-11,-2.18H11"/></g>

<g transform="translate(1841,1666) scale(1,104.2)"><text class=k transform=scale(1.37,.00058)>L</text><g transform=translate(0,-.05)><text class=g transform=scale(1.16,.00363)>H</text><g transform=translate(0,-.27)><text class=k transform=scale(1.37,.01088)>F</text><g transform=translate(0,-.77)><text class=k transform=scale(1.26,.0261)>Y</text></g></g></g><path class=e d="M0,-2.42V-3.43M-11,-2.42H11M-11,-3.43H11"/></g>

<g transform="translate(1931,1666) scale(1,104.2)"><text class=b transform=scale(1.16,.00073)>N</text><g transform=translate(0,-.06)><text class=k transform=scale(1.01,.00073)>M</text><g transform=translate(0,-.06)><text class=b transform=scale(1.26,.00073)>E</text><g transform=translate(0,-.06)><text class=b transform=scale(1.16,.0087)>R</text><g transform=translate(0,-.62)><text class=b transform=scale(1.16,.02175)>K</text></g></g></g></g><path class=e d="M0,-1.86V-2.93M-11,-1.86H11M-11,-2.93H11"/></g>

<g transform="translate(2021,1666) scale(1,104.2)"><text class=k transform=scale(1.37,.00218)>L</text><g transform=translate(0,-.17)><text class=g transform=scale(1.08,.00218)>G</text><g transform=translate(0,-.17)><text class=g transform=scale(1.16,.00145)>A</text><g transform=translate(0,-.12)><text class=b transform=scale(1.16,.00435)>R</text><g transform=translate(0,-.32)><text class=b transform=scale(1.16,.00798)>K</text></g></g></g></g><path class=e d="M0,-.92V-1.79M-11,-.92H11M-11,-1.79H11"/></g>

<g transform="translate(2111,1666) scale(1,104.2)"><text class="k i" transform=scale(2.1,.00073)>I</text><g transform=translate(0,-.06)><text class=k transform=scale(1.16,.00145)>C</text><g transform=translate(0,-.12)><text class=g transform=scale(1.37,.00363)>T</text><g transform=translate(0,-.27)><text class=k transform=scale(1.26,.00508)>V</text><g transform=translate(0,-.37)><text class=b transform=scale(1.26,.00725)>E</text></g></g></g></g><path class=e d="M0,-.92V-1.75M-11,-.92H11M-11,-1.75H11"/></g>

<g transform="translate(2201,1666) scale(1,104.2)"><text class=k transform=scale(1.37,.00073)>L</text><g transform=translate(0,-.06)><text class="k i" transform=scale(2.1,.00145)>I</text><g transform=translate(0,-.12)><text class=b transform=scale(1.26,.00218)>E</text><g transform=translate(0,-.17)><text class=b transform=scale(1.16,.00363)>R</text><g transform=translate(0,-.27)><text class=b transform=scale(1.16,.00363)>N</text><g transform=translate(0,-.27)><text class=b transform=scale(1.16,.0145)>K</text></g></g></g></g></g><path class=e d="M0,-1.3V-2.27M-11,-1.3H11M-11,-2.27H11"/></g>

<g transform="translate(2291,1666) scale(1,104.2)"><text class=b transform=scale(1.08,.00116)>Q</text><g transform=translate(0,-.1)><text class=g transform=scale(1.16,.00102)>A</text><g transform=translate(0,-.09)><text class=g transform=scale(1.37,.00174)>T</text><g transform=translate(0,-.14)><text class=b transform=scale(1.26,.00363)>E</text><g transform=translate(0,-.27)><text class=b transform=scale(1.16,.0029)>N</text><g transform=translate(0,-.22)><text class=b transform=scale(1.16,.00363)>D</text></g></g></g></g></g><path class=e d="M0,-.67V-1.41M-11,-.67H11M-11,-1.41H11"/></g>

<g transform="translate(2381,1666) scale(1,104.2)"><text class=k transform=scale(1.26,.00087)>V</text><g transform=translate(0,-.08)><text class=k transform=scale(.89,.00145)>W</text><g transform=translate(0,-.12)><text class=b transform=scale(1.16,.00145)>R</text><g transform=translate(0,-.12)><text class=g transform=scale(1.26,.00174)>S</text><g transform=translate(0,-.14)><text class=g transform=scale(1.08,.00218)>G</text><g transform=translate(0,-.17)><text class=b transform=scale(1.16,.00319)>K</text></g></g></g></g></g><path class=e d="M0,-.7V-1.44M-11,-.7H11M-11,-1.44H11"/></g>

<g transform="translate(2471,1666) scale(1,104.2)"><text class="k i" transform=scale(2.1,.00145)>I</text><g transform=translate(0,-.12)><text class=b transform=scale(1.16,.00116)>R</text><g transform=translate(0,-.1)><text class=b transform=scale(1.26,.00319)>E</text></g></g><path class=e d="M0,-.36V-1.06M-11,-.36H11M-11,-1.06H11"/></g>

<g transform="translate(2561,1666) scale(1,104.2)"><text class=b transform=scale(1.16,.00073)>R</text><g transform=translate(0,-.06)><text class=b transform=scale(1.16,.00073)>D</text><g transform=translate(0,-.06)><text class=g transform=scale(1.26,.00145)>S</text><g transform=translate(0,-.12)><text class=g transform=scale(1.26,.00116)>S</text><g transform=translate(0,-.1)><text class=b transform=scale(1.16,.00174)>K</text><g transform=translate(0,-.14)><text class=g transform=scale(1.16,.00261)>A</text></g></g></g></g></g><path class=e d="M0,-.47V-1.13M-11,-.47H11M-11,-1.13H11"/></g>

<g transform="translate(2651,1666) scale(1,104.2)"><rect class=g x="-2.5" y="-1.58" width="5" height="1.58"/><path class=e d="M0,-.7V-2.41M-11,-.7H11M-11,-2.41H11"/></g>
<g transform="translate(2741,1666) scale(1,104.2)"><rect class=k x="-2" y="-1.65" width="4" height="1.65"/><path class=e d="M0,-.78V-2.53M-11,-.78H11M-11,-2.53H11"/></g>
<g transform="translate(2831,1666) scale(1,104.2)"><rect class=g x="-2" y="-1.52" width="4" height="1.52"/><path class=e d="M0,-.63V-2.38M-11,-.63H11M-11,-2.38H11"/></g>
<g transform="translate(2921,1666) scale(1,104.2)"><rect class=g x="-2" y="-1.52" width="4" height="1.52"/><path class=e d="M0,-.63V-2.38M-11,-.63H11M-11,-2.38H11"/></g>

<g transform="translate(3011,1666) scale(1,104.2)"><text class=b transform=scale(1.16,.00073)>N</text><g transform=translate(0,-.06)><text class=b transform=scale(1.16,.00073)>D</text><g transform=translate(0,-.06)><text class=g transform=scale(1.16,.00087)>A</text><g transform=translate(0,-.07)><text class=b transform=scale(1.16,.00102)>K</text><g transform=translate(0,-.08)><text class=g transform=scale(1.08,.00102)>G</text><g transform=translate(0,-.08)><text class=b transform=scale(1.26,.00116)>E</text><g transform=translate(0,-.09)><text class=g transform=scale(1.26,.00073)>S</text><g transform=translate(0,-.06)><text class=b transform=scale(1.16,.00261)>R</text></g></g></g></g></g></g></g><path class=e d="M0,-.52V-1.1M-11,-.52H11M-11,-1.1H11"/></g>

<g transform="translate(3101,1666) scale(1,104.2)"><text class=k transform=scale(1.26,.00073)>V</text><g transform=translate(0,-.06)><text class="k i" transform=scale(2.1,.00073)>I</text><g transform=translate(0,-.06)><text class=k transform=scale(1.01,.00116)>M</text><g transform=translate(0,-.1)><text class=g transform=scale(1.08,.00218)>G</text><g transform=translate(0,-.17)><text class=g transform=scale(1.16,.00218)>A</text><g transform=translate(0,-.17)><text class=b transform=scale(1.16,.00435)>R</text></g></g></g></g></g><path class=e d="M0,-.55V-1.28M-11,-.55H11M-11,-1.28H11"/></g>

<g transform="translate(3191,1666) scale(1,104.2)"><rect class=g x="-3" y="-1.6" width="6" height="1.6"/><path class=e d="M0,-.78V-2.41M-11,-.78H11M-11,-2.41H11"/></g>

<g transform="translate(3281,1666) scale(1,104.2)"><text class=k transform=scale(.4,.00073)>Y</text><g transform=translate(0,-.06)><text class=k transform=scale(.4,.00073)>V</text><g transform=translate(0,-.06)><text class=b transform=scale(.4,.00073)>K</text><g transform=translate(0,-.06)><text class=g transform=scale(.4,.00073)>H</text><g transform=translate(0,-.06)><text class=g transform=scale(.4,.00087)>G</text><g transform=translate(0,-.07)><text class=b transform=scale(.4,.00087)>E</text><g transform=translate(0,-.07)><text class="k i" transform=scale(.7,.00073)>I</text><g transform=translate(0,-.06)><text class=b transform=scale(.4,.00218)>N</text><g transform=translate(0,-.17)><text class=g transform=scale(.4,.00508)>S</text></g></g></g></g></g></g></g></g><path class=e d="M0,-.62V-1.63M-11,-.62H11M-11,-1.63H11"/></g>

<g transform="translate(3371,1666) scale(1,104.2)"><rect class=g x="-2" y="-1.49" width="4" height="1.49"/><path class=e d="M0,-.59V-2.37M-11,-.59H11M-11,-2.37H11"/></g>

<g transform="translate(3461,1666) scale(1,104.2)"><text class=b transform=scale(.57,.00073)>R</text><g transform=translate(0,-.06)><text class=g transform=scale(.57,.00102)>H</text><g transform=translate(0,-.08)><text class=b transform=scale(.6,.00102)>E</text><g transform=translate(0,-.08)><text class=g transform=scale(.6,.00189)>S</text><g transform=translate(0,-.14)><text class=k transform=scale(.57,.00363)>C</text><g transform=translate(0,-.27)><text class=g transform=scale(.6,.00508)>P</text><g transform=translate(0,-.37)><text class=g transform=scale(.53,.00798)>G</text></g></g></g></g></g></g><path class=e d="M0,-.95V-2.07M-11,-.95H11M-11,-2.07H11"/></g>

<g transform="translate(3551,1666) scale(1,104.2)"><text class=b transform=scale(.79,.00073)>D</text><g transform=translate(0,-.06)><text class=k transform=scale(.86,.00174)>L</text><g transform=translate(0,-.14)><text class=g transform=scale(.79,.00174)>A</text><g transform=translate(0,-.14)><text class=b transform=scale(.79,.0029)>R</text><g transform=translate(0,-.22)><text class=b transform=scale(.83,.00218)>E</text><g transform=translate(0,-.17)><text class=b transform=scale(.74,.0029)>Q</text></g></g></g></g></g><path class=e d="M0,-.58V-1.31M-11,-.58H11M-11,-1.31H11"/></g>

<g transform="translate(3641,1666) scale(1,104.2)"><text class=b transform=scale(.79,.00073)>N</text><g transform=translate(0,-.06)><text class=k transform=scale(.83,.00073)>Y</text><g transform=translate(0,-.06)><text class=b transform=scale(.79,.00073)>N</text><g transform=translate(0,-.06)><text class=g transform=scale(.74,.00102)>G</text><g transform=translate(0,-.08)><text class=k transform=scale(.86,.00102)>F</text><g transform=translate(0,-.08)><text class=k transform=scale(.83,.00174)>V</text><g transform=translate(0,-.14)><text class=g transform=scale(.86,.00145)>T</text><g transform=translate(0,-.12)><text class=b transform=scale(.79,.0058)>D</text></g></g></g></g></g></g></g><path class=e d="M0,-.7V-1.5M-11,-.7H11M-11,-1.5H11"/></g>

<g transform="translate(3731,1666) scale(1,104.2)"><text class="k i" transform=scale(1.5,.00073)>I</text><g transform=translate(0,-.06)><text class=g transform=scale(.86,.00102)>T</text><g transform=translate(0,-.08)><text class=k transform=scale(.83,.00174)>V</text><g transform=translate(0,-.14)><text class=g transform=scale(.83,.00247)>S</text><g transform=translate(0,-.18)><text class=g transform=scale(.74,.0029)>G</text></g></g></g></g><path class=e d="M0,-.46V-1.28M-11,-.46H11M-11,-1.28H11"/></g>

<g transform="translate(3821,1666) scale(1,104.2)"><text class=b transform=scale(1.16,.00073)>N</text><g transform=translate(0,-.06)><text class=b transform=scale(1.08,.00073)>Q</text><g transform=translate(0,-.06)><text class=b transform=scale(1.26,.00145)>E</text><g transform=translate(0,-.12)><text class=b transform=scale(1.16,.0058)>K</text><g transform=translate(0,-.42)><text class=g transform=scale(1.26,.00798)>S</text></g></g></g></g><path class=e d="M0,-.84V-1.74M-11,-.84H11M-11,-1.74H11"/></g>

<!-- ROW 4 -->
<g transform="translate(311,2249) scale(1,104.2)"><text class=k transform=scale(1.37,.00073)>L</text><g transform=translate(0,-.06)><text class=g transform=scale(1.16,.00145)>H</text><g transform=translate(0,-.12)><text class=g transform=scale(1.37,.0029)>T</text><g transform=translate(0,-.2)><text class=b transform=scale(1.08,.00218)>Q</text><g transform=translate(0,-.17)><text class=g transform=scale(1.26,.0029)>S</text><g transform=translate(0,-.22)><text class=b transform=scale(1.16,.0029)>N</text><g transform=translate(0,-.22)><text class=b transform=scale(1.16,.00435)>K</text></g></g></g></g></g></g><path class=e d="M0,-.9V-1.63M-11,-.9H11M-11,-1.63H11"/></g>

<g transform="translate(401,2249) scale(1,104.2)"><text class=b transform=scale(1.08,.00073)>Q</text><g transform=translate(0,-.06)><text class=k transform=scale(1.01,.00145)>M</text><g transform=translate(0,-.12)><text class=g transform=scale(1.26,.0029)>P</text><g transform=translate(0,-.22)><text class=k transform=scale(1.37,.00435)>F</text><g transform=translate(0,-.32)><text class=k transform=scale(1.16,.0058)>C</text><g transform=translate(0,-.42)><text class=k transform=scale(1.26,.00725)>Y</text><g transform=translate(0,-.52)><text class=k transform=scale(.89,.01885)>W</text></g></g></g></g></g></g><path class=e d="M0,-2.25V-3.35M-11,-2.25H11M-11,-3.35H11"/></g>

<g transform="translate(491,2249) scale(1,104.2)"><text class=g transform=scale(1.08,.00073)>G</text><g transform=translate(0,-.06)><text class=b transform=scale(1.26,.00073)>E</text><g transform=translate(0,-.06)><text class=b transform=scale(1.16,.00073)>N</text><g transform=translate(0,-.06)><text class=k transform=scale(1.26,.00363)>V</text><g transform=translate(0,-.27)><text class=b transform=scale(1.16,.00363)>R</text><g transform=translate(0,-.27)><text class=g transform=scale(1.26,.01088)>P</text></g></g></g></g></g><path class=e d="M0,-1.11V-2.09M-11,-1.11H11M-11,-2.09H11"/></g>

<g transform="translate(581,2249) scale(1,104.2)"><text class=k transform=scale(.89,.00073)>W</text><g transform=translate(0,-.06)><text class=g transform=scale(1.26,.00073)>S</text><g transform=translate(0,-.06)><text class=g transform=scale(1.16,.00073)>H</text><g transform=translate(0,-.06)><text class=k transform=scale(1.37,.00363)>L</text><g transform=translate(0,-.27)><text class=k transform=scale(1.26,.01088)>Y</text><g transform=translate(0,-.77)><text class=k transform=scale(1.37,.01233)>F</text></g></g></g></g></g><path class=e d="M0,-1.65V-2.66M-11,-1.65H11M-11,-2.66H11"/></g>

<g transform="translate(671,2249) scale(1,104.2)"><text class=g transform=scale(1.08,.00073)>G</text><g transform=translate(0,-.06)><text class=b transform=scale(1.16,.00145)>R</text><g transform=translate(0,-.12)><text class=k transform=scale(1.01,.00102)>M</text><g transform=translate(0,-.09)><text class=k transform=scale(1.37,.00218)>L</text><g transform=translate(0,-.17)><text class=k transform=scale(1.26,.00943)>Y</text><g transform=translate(0,-.67)><text class=k transform=scale(1.37,.02175)>F</text></g></g></g></g></g><path class=e d="M0,-1.91V-3.05M-11,-1.91H11M-11,-3.05H11"/></g>

<g transform="translate(761,2249) scale(1,104.2)"><text class=b transform=scale(1.16,.00102)>R</text><g transform=translate(0,-.09)><text class=g transform=scale(1.16,.00116)>H</text><g transform=translate(0,-.1)><text class=b transform=scale(1.16,.0029)>K</text><g transform=translate(0,-.22)><text class=b transform=scale(1.16,.00508)>N</text><g transform=translate(0,-.37)><text class=b transform=scale(1.26,.00363)>E</text><g transform=translate(0,-.27)><text class=b transform=scale(1.16,.00508)>D</text></g></g></g></g></g><path class=e d="M0,-1.01V-1.77M-11,-1.01H11M-11,-1.77H11"/></g>

<g transform="translate(851,2249) scale(1,104.2)"><text class="k i" transform=scale(2.1,.00073)>I</text><g transform=translate(0,-.06)><text class=g transform=scale(1.26,.00073)>S</text><g transform=translate(0,-.06)><text class=b transform=scale(1.16,.00102)>D</text><g transform=translate(0,-.09)><text class=b transform=scale(1.16,.00116)>K</text><g transform=translate(0,-.1)><text class=b transform=scale(1.16,.00174)>R</text><g transform=translate(0,-.14)><text class=b transform=scale(1.26,.00218)>E</text><g transform=translate(0,-.17)><text class=b transform=scale(1.08,.00508)>Q</text></g></g></g></g></g></g><path class=e d="M0,-.83V-1.66M-11,-.83H11M-11,-1.66H11"/></g>

<g transform="translate(941,2249) scale(1,104.2)"><text class="k i" transform=scale(2.1,.00102)>I</text><g transform=translate(0,-.08)><text class=k transform=scale(1.01,.01189)>M</text><g transform=translate(0,-.84)><text class=k transform=scale(1.37,.02103)>L</text></g></g><path class=e d="M0,-1.84V-3M-11,-1.84H11M-11,-3H11"/></g>

<g transform="translate(1031,2249) scale(1,104.2)"><text class=g transform=scale(1.08,.00073)>G</text><g transform=translate(0,-.06)><text class=b transform=scale(1.16,.00145)>R</text><g transform=translate(0,-.12)><text class=b transform=scale(1.08,.00218)>Q</text><g transform=translate(0,-.17)><text class=b transform=scale(1.26,.00653)>E</text><g transform=translate(0,-.47)><text class=b transform=scale(1.16,.01813)>D</text></g></g></g></g><path class=e d="M0,-1.51V-2.59M-11,-1.51H11M-11,-2.59H11"/></g>

<g transform="translate(1121,2249) scale(1,104.2)"><rect class=g x="-3" y="-1.94" width="6" height="1.94"/><path class=e d="M0,-.97V-2.95M-11,-.97H11M-11,-2.95H11"/></g>
</g>
</svg>
</body></html>
